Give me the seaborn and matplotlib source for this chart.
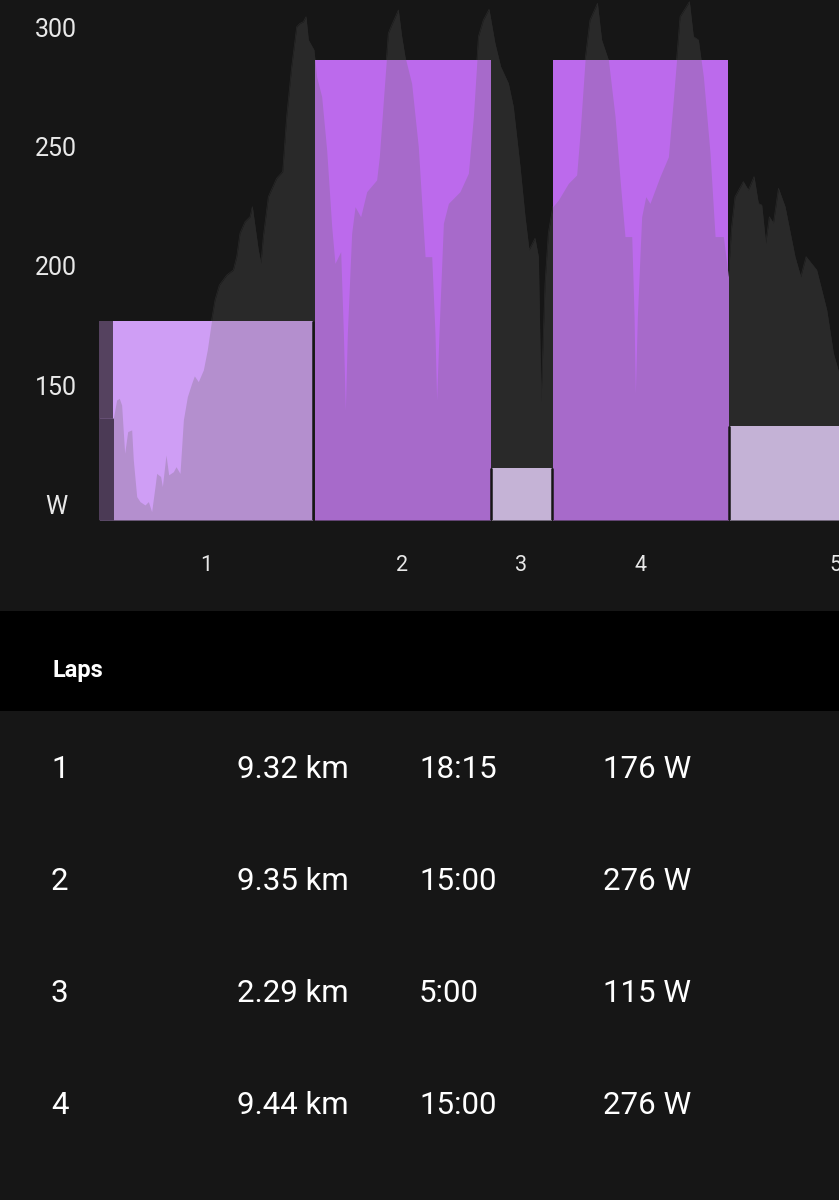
import numpy as np
import pandas as pd
import matplotlib
matplotlib.use("Agg")
import matplotlib.pyplot as plt
from matplotlib.patches import Rectangle
import seaborn as sns

# Lap bars (minutes on the x axis, watts on the y axis)
lap_edges = [0, 18.38, 33.59, 38.82, 53.98, 72.3]
lap_heights = [177, 286, 115.5, 286, 133]
lap_names = ["1", "2", "3", "4", "5"]
warmup_edges = [0, 1.2]
warmup_height = [177]

# Power profile
profile_min = [
    0, 1.23, 1.51, 1.74, 1.94, 2.09, 2.20, 2.46, 2.80, 2.94, 3.23, 3.51, 3.94, 4.23, 4.51, 4.80, 4.94,
    5.28, 5.43, 5.74, 5.97, 6.37, 6.60, 6.94, 7.23, 7.57, 7.94, 8.17, 8.51, 8.94, 9.28, 9.65, 9.94,
    10.31, 10.94, 11.51, 11.80, 12.08, 12.51, 12.94, 13.14, 13.37, 13.65, 13.88, 14.08, 14.51, 15.22,
    15.74, 16.08, 16.51, 16.94, 17.22, 17.51, 17.74, 17.94, 18.42, 18.65, 19.08, 19.51, 19.94, 20.22,
    20.71, 20.94, 21.11, 21.28, 21.65, 21.94, 22.42, 22.94, 23.79, 24.02, 24.37, 24.79, 25.08, 25.65,
    25.94, 26.22, 26.79, 27.36, 27.94, 28.51, 28.79, 28.93, 29.13, 29.51, 29.94, 30.93, 31.65, 32.08,
    32.51, 32.93, 33.42, 33.93, 34.42, 35.08, 35.50, 36.08, 36.51, 36.85, 37.36, 37.65, 37.88, 38.22,
    38.50, 38.88, 39.36, 40.22, 40.93, 41.22, 41.65, 42.07, 42.71, 43.07, 43.65, 44.22, 44.65, 45.07,
    45.65, 45.85, 45.96, 46.13, 46.50, 46.85, 47.21, 48.07, 48.79, 49.21, 49.79, 50.59, 50.93, 51.36,
    51.79, 52.36, 52.79, 53.50, 53.93, 54.21, 54.50, 55.21, 55.64, 56.13, 56.50, 56.79, 57.13, 57.44,
    57.79, 58.22, 58.79, 59.64, 60.13, 60.59, 61.50, 62.36, 62.93, 63.41,
]
profile_watts = [
    136.3, 136.3, 143.9, 144.6, 141.8, 130, 121.6, 130.7, 131.4, 118.8, 103.5, 101.4, 100, 101.4, 97.2, 107.7, 113.2,
    111.9, 107.7, 120.9, 112.6, 113.9, 116, 113.2, 135.6, 145.3, 150.9, 154, 151.6, 156.5, 164.9, 177.4, 185.8,
    192, 196.2, 198.3, 203.9, 213.7, 218.5, 220.6, 224.8, 216.5, 206.7, 201.1, 212.3, 229, 236.7,
    239.5, 262.5, 283.4, 300.1, 301.5, 302.2, 304.3, 294.6, 290.4, 279.2, 270.9, 248.5, 216.5, 201.1,
    206, 171.8, 139.7, 171.8, 213.7, 224.8, 220.6, 231.1, 236, 245.7, 269.5, 297.4, 300.8, 307.1,
    296, 287.6, 276.4, 249.9, 203.9, 203.9, 171.8, 143.9, 171.8, 217.9, 226.2, 231.1, 238.8, 262.5,
    296, 302.9, 307.4, 293.2, 283.4, 276.4, 266.7, 241.6, 220.6, 206.7, 211.6, 203.9, 143.2, 192.7,
    213.7, 224.8, 227.6, 234.6, 238.1, 255.5, 286.2, 302.9, 309.9, 294.6, 286.2, 262.5, 236, 212.3,
    212.3, 178.8, 146.7, 178.8, 220.6, 229, 226.2, 237.4, 245.7, 269.5, 304.3, 310.6, 296, 294.6,
    279.2, 247.1, 212.3, 212.3, 195.5, 216.5, 229, 235.3, 231.8, 237.4, 226.2, 225.5, 209.5, 220.6,
    217.9, 232.5, 224.8, 203.9, 195.5, 203.9, 198.3, 181.6, 163.5, 155.1,
]

y_ticks = [100, 150, 200, 250, 300]
y_labels = ["W", "150", "200", "250", "300"]

# Laps table
table_laps = ["1", "2", "3", "4"]
table_dist = ["9.32 km", "9.35 km", "2.29 km", "9.44 km"]
table_time = ["18:15", "15:00", "5:00", "15:00"]
table_power = ["176 W", "276 W", "115 W", "276 W"]

BG = "#161616"
AREA = "#292929"
BAR_COLORS = ["#cf9ef5", "#bc6aec", "#c5b3d6", "#bc6aec", "#c4b2d6"]
OVER_COLORS = ["#b48fce", "#a76aca", "#c5b3d6", "#a76aca", "#c4b2d6"]
HALF_GAP = 0.107  # half of the space between two laps, in minutes

sns.set_theme(style="dark", rc={"axes.facecolor": BG, "figure.facecolor": BG})
plt.rcParams["font.family"] = ["Roboto", "DejaVu Sans"]

W, H = 839, 1200
fig = plt.figure(figsize=(W / 100, H / 100), dpi=100)
ax = fig.add_axes([99 / W, 1 - 520 / H, 740 / W, 520 / H])

profile = pd.DataFrame({"minutes": profile_min, "watts": profile_watts})
ax.set_xlim(0, 63.41)
ax.set_ylim(93.7, 311.3)
base = ax.get_ylim()[0]

# Profile behind the bars
ax.fill_between(profile_min, base, profile_watts, color=AREA, lw=0, zorder=1)
sns.lineplot(data=profile, x="minutes", y="watts", estimator=None, color=AREA, lw=0.5, ax=ax, zorder=1)

# Lap bars, variable widths come from the bin edges
lap_mids = (np.array(lap_edges[:-1]) + np.array(lap_edges[1:])) / 2
sns.histplot(x=lap_mids, weights=lap_heights, bins=lap_edges, ax=ax, alpha=1, lw=0, zorder=2)
lap_bars = list(ax.patches)
for bar, color in zip(lap_bars, BAR_COLORS):
    bar.set_facecolor(color)
    bar.set_x(bar.get_x() + HALF_GAP)
    bar.set_width(bar.get_width() - 2 * HALF_GAP)

sns.histplot(x=[0.6], weights=warmup_height, bins=warmup_edges, ax=ax, alpha=1, lw=0, color="#55425f", zorder=3)
warmup_bar = ax.patches[-1]

# Where the profile passes under a bar it shows as a duller tint of that bar
for bar, color in zip(lap_bars, OVER_COLORS):
    over = ax.fill_between(profile_min, base, profile_watts, color=color, lw=0, zorder=4)
    over.set_clip_path(bar)
over = ax.fill_between(profile_min, base, profile_watts, color="#4b3a55", lw=0, zorder=4)
over.set_clip_path(warmup_bar)

# The space between two laps is dark below the lower of the two bars
gap_tops = np.minimum(lap_heights[:-1], lap_heights[1:])
ax.vlines(lap_edges[1:-1], base, gap_tops, color=BG, lw=1.8, zorder=5)

ax.set_xlabel("")
ax.set_ylabel("")
ax.set_yticks(y_ticks)
ax.set_yticklabels(y_labels, fontsize=18, color="#e8e8e8", ha="center")
ax.set_xticks(lap_mids)
ax.set_xticklabels(lap_names, fontsize=15.5, color="#e8e8e8")
ax.tick_params(axis="y", length=0, pad=31)
ax.tick_params(axis="x", length=0, pad=25)
ax.grid(False)
sns.despine(ax=ax, left=True, bottom=True, top=True, right=True)

# Header band and table under the chart
fig.add_artist(Rectangle((0, 1 - 711 / H), 1, 100 / H, transform=fig.transFigure, color="black", lw=0))
fig.text(52 / W, 1 - 671 / H, "Laps", color="white", fontsize=17, fontweight="bold", va="center")

row_y = [769, 881, 993, 1105]
col_x = [51, 237, 419, 603]
for i, y in enumerate(row_y):
    row = [table_laps[i], table_dist[i], table_time[i], table_power[i]]
    for x, label in zip(col_x, row):
        fig.text(x / W, 1 - y / H, label, color="white", fontsize=22.5, va="center")

plt.savefig("out.png", dpi=100)
